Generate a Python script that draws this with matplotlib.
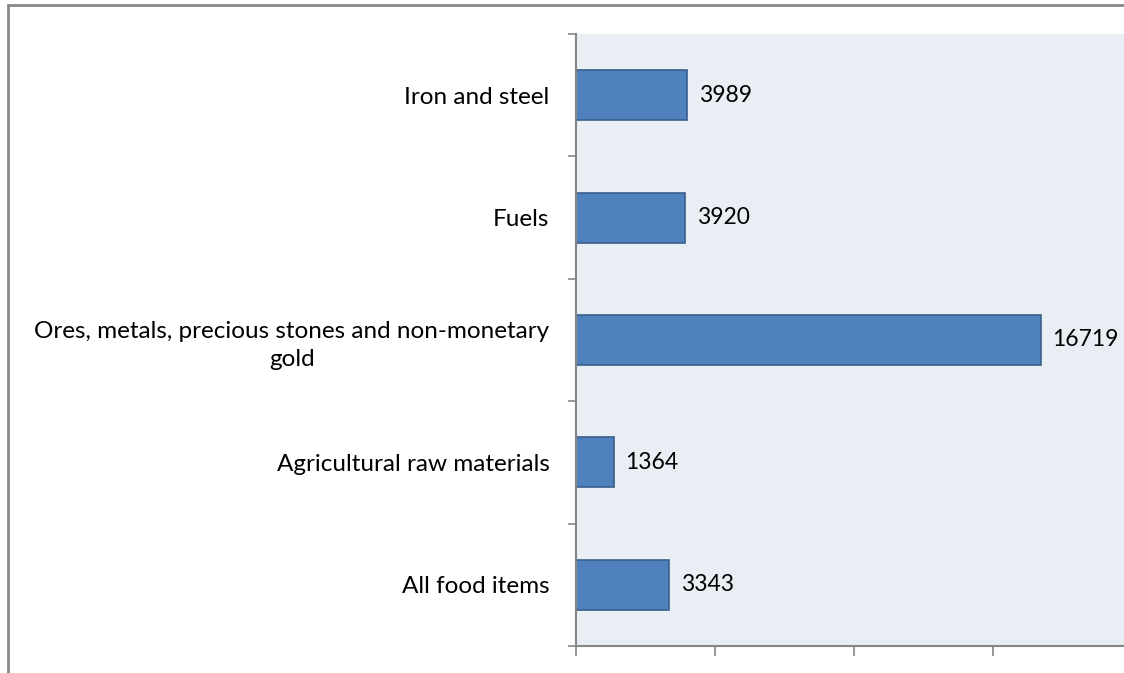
import matplotlib.pyplot as plt
import matplotlib.patches as patches
from matplotlib.ticker import FixedLocator, NullFormatter

# export values by product group
categories = ['All food items', 'Agricultural raw materials',
              'Ores, metals, precious stones and non-monetary\ngold',
              'Fuels', 'Iron and steel']
values = [3343, 1364, 16719, 3920, 3989]

plt.rcParams['font.family'] = ['Lato', 'DejaVu Sans']

fig = plt.figure(figsize=(11.24, 6.73), dpi=100)
W, H = 1124, 673
ax = fig.add_axes([576 / W, 27 / H, 556 / W, 612 / H])
ax.set_facecolor('#E9EDF4')

pos = list(range(len(categories)))
ax.barh(pos, values, height=0.41, color='#4F81BD', edgecolor='#3A5F8B', linewidth=1.2)

for p, v in zip(pos, values):
    ax.text(v + 420, p, str(v), va='center', ha='left', fontsize=16.5, color='black')

ax.set_xlim(0, 20000)
ax.set_ylim(-0.5, len(categories) - 0.5)

ax.set_xticks([0, 5000, 10000, 15000, 20000])
ax.xaxis.set_major_formatter(NullFormatter())
ax.tick_params(axis='x', which='major', direction='out', length=7, width=1.2, color='#868686')

# boundaries get the tick marks, centres get the labels
ax.yaxis.set_major_locator(FixedLocator([i - 0.5 for i in range(len(categories) + 1)]))
ax.yaxis.set_major_formatter(NullFormatter())
ax.yaxis.set_minor_locator(FixedLocator(pos))
ax.set_yticklabels(categories, minor=True, fontsize=17.5, multialignment='center', linespacing=1.4)
ax.tick_params(axis='y', which='major', direction='out', length=6, width=1.2, color='#868686')
ax.tick_params(axis='y', which='minor', length=0, pad=19)

for s in ['top', 'right']:
    ax.spines[s].set_visible(False)
for s in ['left', 'bottom']:
    ax.spines[s].set_color('#868686')
    ax.spines[s].set_linewidth(1.5)

# outer chart frame, runs off the right and bottom edges
frame = patches.Rectangle((7.5 / W, -0.1), 1.2, (673 - 5.5) / H + 0.1, transform=fig.transFigure,
                          fill=False, edgecolor='#888888', linewidth=2, clip_on=False)
fig.patches.append(frame)

fig.savefig('out.png', dpi=100)
